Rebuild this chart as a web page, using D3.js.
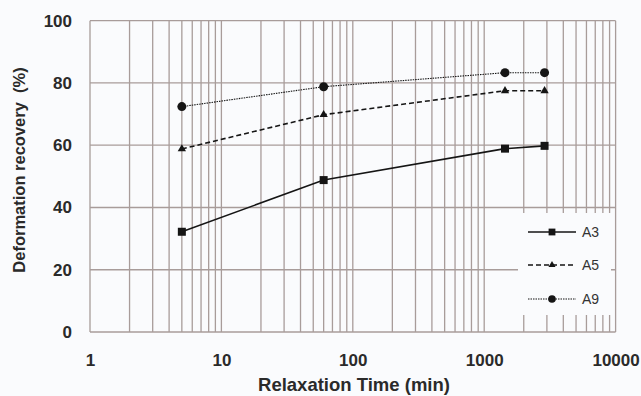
<!DOCTYPE html>
<html>
<head>
<meta charset="utf-8">
<script src="https://cdn.jsdelivr.net/npm/d3@7"></script>
<style>
  html, body { margin: 0; padding: 0; background: #fafbfd; }
  svg { display: block; }
  text { font-family: "Liberation Sans", Arial, sans-serif; }
</style>
</head>
<body>
<svg id="chart" width="641" height="396"></svg>
<script>
// Relaxation time (min) at which recovery was measured
const times = [5, 60, 1440, 2880];
// Deformation recovery (%) per specimen
const seriesNames = ["A3", "A5", "A9"];
const a3 = [32.2, 48.8, 58.9, 59.8];
const a5 = [58.8, 69.8, 77.5, 77.5];
const a9 = [72.4, 78.8, 83.3, 83.3];
const yTicks = [0, 20, 40, 60, 80, 100];
const xTicks = [1, 10, 100, 1000, 10000];

const svg = d3.select("#chart");
const margin = { left: 90, right: 25.4, top: 20.7, bottom: 64 };
const W = 641, H = 396;

const x = d3.scaleLog().domain([1, 10000]).range([margin.left, W - margin.right]);
const y = d3.scaleLinear().domain([0, 100]).range([H - margin.bottom, margin.top]);

const gridColor = "#a89c9a";
const labelColor = "#2a2a2a";

// vertical log grid: every 1..9 multiple inside each decade
const minor = [];
for (let d = 1; d < 10000; d *= 10) for (let k = 1; k <= 10; k++) minor.push(d * k);
const uniq = Array.from(new Set(minor));

svg.append("g").selectAll("line").data(uniq).join("line")
  .attr("x1", d => x(d)).attr("x2", d => x(d))
  .attr("y1", y(0)).attr("y2", y(100))
  .attr("stroke", gridColor).attr("stroke-width", 1.3);

svg.append("g").selectAll("line").data(yTicks).join("line")
  .attr("x1", x(1)).attr("x2", x(10000))
  .attr("y1", d => y(d)).attr("y2", d => y(d))
  .attr("stroke", gridColor).attr("stroke-width", 1.3);

// axes (labels only, the frame is the grid)
const yAxis = d3.axisLeft(y).tickValues(yTicks).tickSize(0).tickPadding(18).tickFormat(d3.format("d"));
svg.append("g").attr("transform", `translate(${x(1)},0)`).call(yAxis)
  .call(g => g.select(".domain").remove())
  .selectAll("text").attr("font-size", 17).attr("font-weight", "bold").attr("fill", labelColor)
  .attr("font-family", "Liberation Sans, Arial, sans-serif");

const xAxis = d3.axisBottom(x).tickValues(xTicks).tickSize(0).tickPadding(22).tickFormat(d3.format("d"));
svg.append("g").attr("transform", `translate(0,${y(0)})`).call(xAxis)
  .call(g => g.select(".domain").remove())
  .selectAll("text").attr("font-size", 17).attr("font-weight", "bold").attr("fill", labelColor)
  .attr("font-family", "Liberation Sans, Arial, sans-serif");

svg.append("text").attr("x", 354).attr("y", 391)
  .attr("text-anchor", "middle").attr("font-size", 18.5).attr("font-weight", "bold").attr("fill", labelColor)
  .text("Relaxation Time (min)");

svg.append("text").attr("transform", "translate(25,170) rotate(-90)")
  .attr("text-anchor", "middle").attr("font-size", 16.5).attr("font-weight", "bold").attr("fill", labelColor)
  .attr("xml:space", "preserve")
  .text("Deformation recovery  (%)");

const styles = {
  A3: { values: a3, dash: null, width: 1.6, marker: "square" },
  A5: { values: a5, dash: "5,3", width: 1.6, marker: "triangle" },
  A9: { values: a9, dash: "1.5,1", width: 1.1, marker: "circle" }
};
const ink = "#151515";

const line = d3.line().x(d => x(d.t)).y(d => y(d.v));

function drawMarker(g, kind, cx, cy, scale) {
  const s = scale || 1;
  if (kind === "square") {
    g.append("rect").attr("x", cx - 4 * s).attr("y", cy - 4 * s)
      .attr("width", 8 * s).attr("height", 8 * s).attr("fill", ink);
  } else if (kind === "triangle") {
    g.append("path").attr("d", d3.symbol(d3.symbolTriangle, 30 * s * s)())
      .attr("transform", `translate(${cx},${cy})`).attr("fill", ink);
  } else {
    g.append("circle").attr("cx", cx).attr("cy", cy).attr("r", 4.5 * s).attr("fill", ink);
  }
}

const plot = svg.append("g");
seriesNames.forEach(name => {
  const st = styles[name];
  const pts = times.map((t, i) => ({ t, v: st.values[i] }));
  plot.append("path").datum(pts).attr("d", line)
    .attr("fill", "none").attr("stroke", ink).attr("stroke-width", st.width)
    .attr("stroke-dasharray", st.dash);
  pts.forEach(p => drawMarker(plot, st.marker, x(p.t), y(p.v)));
});

// legend box
const lg = svg.append("g");
lg.append("rect").attr("x", 518).attr("y", 213).attr("width", 93).attr("height", 102)
  .attr("fill", "#fafbfd");
const legY = [232, 265, 299];
seriesNames.forEach((name, i) => {
  const st = styles[name];
  lg.append("line").attr("x1", 528).attr("x2", 576).attr("y1", legY[i]).attr("y2", legY[i])
    .attr("stroke", ink).attr("stroke-width", st.width).attr("stroke-dasharray", st.dash);
  drawMarker(lg, st.marker, 552, legY[i], 0.85);
  lg.append("text").attr("x", 582).attr("y", legY[i] + 5)
    .attr("font-size", 14).attr("fill", "#333").text(name);
});
</script>
</body>
</html>
